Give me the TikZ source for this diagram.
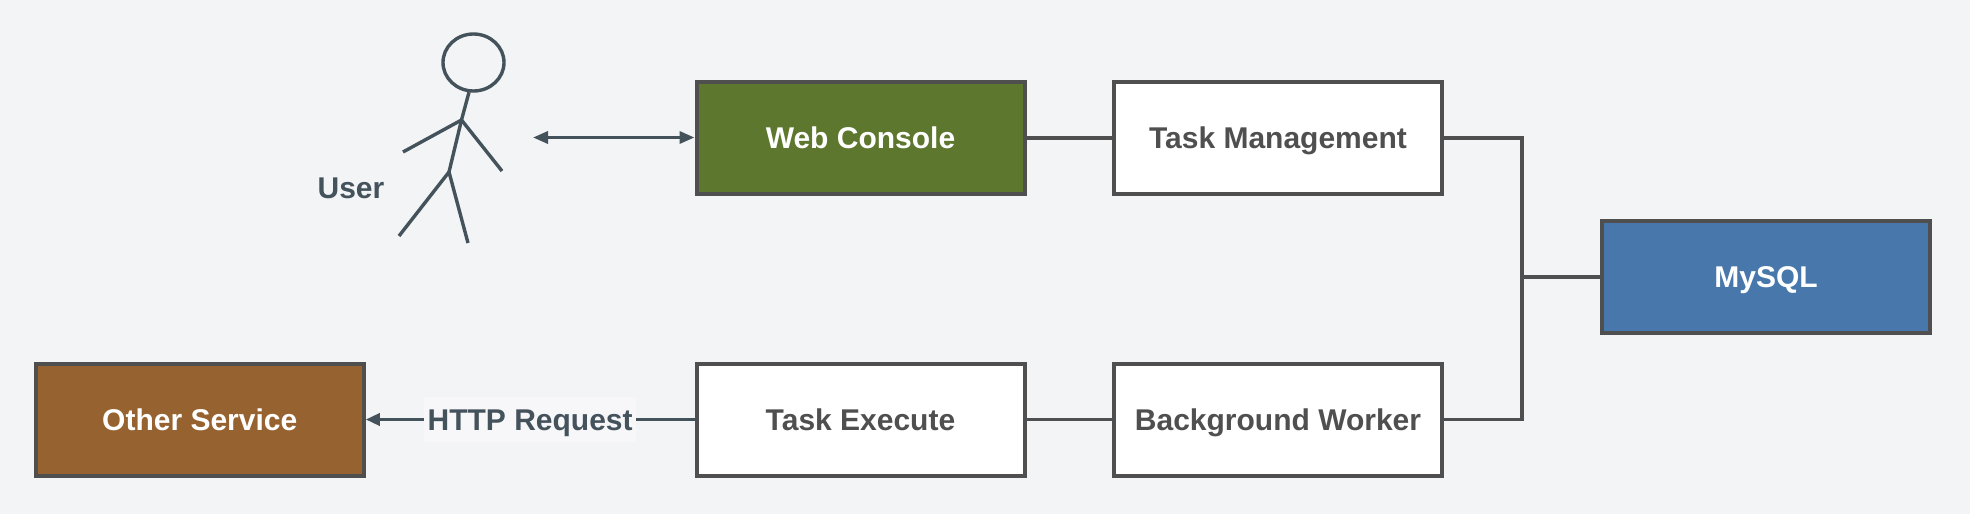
\documentclass[tikz,border=0pt]{standalone}
\usepackage{fontspec}
\setmainfont{Liberation Sans}
\usetikzlibrary{arrows.meta,calc,positioning,shapes.geometric}
\definecolor{my_bg}{RGB}{243, 244, 246}
\definecolor{my_line}{RGB}{79, 79, 79}
\definecolor{my_slate}{RGB}{68, 82, 92}
\definecolor{my_green}{RGB}{94, 119, 46}
\definecolor{my_brown}{RGB}{150, 99, 48}
\definecolor{my_blue}{RGB}{72, 120, 171}
\tikzset{
  label_text/.style = {font=\fontsize{30}{36}\selectfont\bfseries, text height=27pt, text depth=6pt},
  box/.style = {rectangle, draw=my_line, line width=4pt, minimum width=328pt, minimum height=112pt,
  align=center, label_text},
  plain_box/.style = {box, fill=white, text=my_line},
  green_box/.style = {box, fill=my_green, text=white},
  brown_box/.style = {box, fill=my_brown, text=white},
  blue_box/.style = {box, fill=my_blue, text=white},
  figure_line/.style = {draw=my_slate, line width=3.4pt}
}

\begin{document}
\begin{tikzpicture}[x=1pt, y=-1pt, node distance=166pt and 85.5pt,
		    link/.style={draw=my_line, line width=4pt},
		    thin_link/.style={draw=my_line, line width=3.2pt},
		    call/.style={draw=my_slate, line width=3.4pt, -{Triangle[length=14pt,width=12pt]}},
		    both/.style={draw=my_slate, line width=3.4pt, {Triangle[length=15pt,width=12pt]}-{Triangle[length=15pt,width=12pt]}}]
		    \fill[my_bg] (0,0) rectangle (1970,514);
		    \useasboundingbox (0,0) rectangle (1970,514);

		    \node [green_box] (web) at (860.5,137.5) {Web Console};
		    \node [plain_box, right=of web] (taskmgmt) {Task Management};
		    \node [plain_box, below=of web] (execute) {Task Execute};
		    \node [plain_box, below=of taskmgmt] (worker) {Background Worker};
		    \node [brown_box, left=328.75pt of execute] (other) {Other Service};
		    \node [blue_box, anchor=west] (mysql) at ($(taskmgmt.east)!.5!(worker.east)+(156,-1.5)$) {MySQL};
		    \coordinate [left=78pt of mysql.west] (junction);

		    \node [draw=my_slate, line width=3.4pt, ellipse, minimum width=61pt, minimum height=57pt, inner sep=0pt] (head) at (473.5,62.5) {};
		    \coordinate (neck) at (461.5,120);
		    \coordinate (hip) at (449,172);
		    \draw[figure_line] (head.south) ++(-4.5,-.5) -- (neck) -- (hip);
		    \draw[figure_line] (403,152) -- (neck) -- (502,171);
		    \draw[figure_line] (399,236) -- (hip) -- (468,243);
		    \node [label_text, text=my_slate] (user) at (351,188) {User};
		    \coordinate (user_right) at (533,137.5);

		    \draw[both] (user_right) -- (web);
		    \draw[link] (web) -- (taskmgmt);
		    \draw[link] (taskmgmt) -| (junction);
		    \draw[link] (junction) -- (mysql);
		    \draw[thin_link] (junction) |- (worker);
		    \draw[thin_link] (worker) -- (execute);
		    \draw[call] (execute) -- node [fill=my_bg!70!white, inner xsep=3.5pt, inner ysep=6pt, text=my_slate, label_text] (http) {HTTP Request} (other);
		\end{tikzpicture}
\end{document}
